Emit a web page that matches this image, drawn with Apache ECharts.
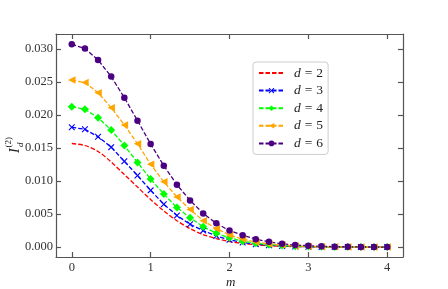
<!DOCTYPE html>
<html>
<head>
<meta charset="utf-8">
<script src="https://cdn.jsdelivr.net/npm/echarts@6/dist/echarts.min.js"></script>
<style>html,body{margin:0;padding:0;background:#fff}#c{width:448px;height:289px}</style>
</head>
<body>
<div id="c"></div>
<script>
// m grid (step 1/6)
const m = [0, 0.1667, 0.3333, 0.5, 0.6667, 0.8333, 1, 1.1667, 1.3333, 1.5, 1.6667, 1.8333, 2,
  2.1667, 2.3333, 2.5, 2.6667, 2.8333, 3, 3.1667, 3.3333, 3.5, 3.6667, 3.8333, 4];
const d2 = [0.0157, 0.0154, 0.0145, 0.0129, 0.0110, 0.0091, 0.0072, 0.0055, 0.0040, 0.0028, 0.0019, 0.0013, 0.00085,
  0.00055, 0.00035, 0.00022, 0.00013, 0.00008, 0.00005, 0.00003, 0.00002, 0.00001, 0.00001, 0, 0];
const d3 = [0.01816, 0.01785, 0.01673, 0.01515, 0.01300, 0.01085, 0.0086, 0.0065, 0.0048, 0.00346, 0.0025, 0.0017, 0.0011,
  0.0007, 0.00045, 0.00028, 0.00017, 0.0001, 0.00006, 0.00003, 0.00002, 0.00001, 0.00001, 0, 0];
const d4 = [0.02129, 0.02088, 0.01962, 0.01775, 0.0154, 0.01282, 0.01032, 0.00805, 0.006, 0.00445, 0.00308, 0.0021, 0.0014,
  0.0009, 0.0006, 0.00037, 0.00023, 0.00014, 0.00008, 0.00005, 0.00003, 0.00002, 0.00001, 0.00001, 0];
const d5 = [0.02533, 0.02493, 0.02341, 0.02113, 0.01851, 0.01568, 0.01254, 0.00991, 0.0076, 0.0057, 0.004, 0.0028, 0.00185,
  0.0012, 0.00078, 0.00048, 0.0003, 0.00018, 0.00011, 0.00006, 0.00004, 0.00002, 0.00001, 0.00001, 0];
const d6 = [0.03075, 0.03009, 0.02837, 0.02584, 0.02265, 0.01917, 0.01563, 0.01234, 0.00945, 0.00708, 0.00511, 0.0036, 0.0025,
  0.0018, 0.0012, 0.0008, 0.0005, 0.0003, 0.0002, 0.00012, 0.00007, 0.00004, 0.00002, 0.00001, 0.00001];
const xTicks = [0, 1, 2, 3, 4];
const yTicks = [0, 0.005, 0.01, 0.015, 0.02, 0.025, 0.03];
const dValues = ['2', '3', '4', '5', '6'];
const names = dValues.map(v => 'd = ' + v);

const FONT = '"Liberation Serif", "DejaVu Serif", serif';
const axisColor = '#555';
const pairs = v => m.map((x, i) => [x, v[i]]);
const crossPath = 'path://M0,1.2L1.2,0L5,3.8L8.8,0L10,1.2L6.2,5L10,8.8L8.8,10L5,6.2L1.2,10L0,8.8L3.8,5Z';

function mk(name, data, color, symbol, size, rot, smooth) {
  return {
    name, type: 'line', data: pairs(data), smooth: smooth || false,
    symbol: symbol, symbolSize: size, symbolRotate: rot || 0, showSymbol: symbol !== 'none',
    lineStyle: { color, width: 1.3, type: [4.5, 2] },
    itemStyle: { color },
    emphasis: { disabled: true }, animation: false
  };
}

const axisLineStyle = { color: axisColor, width: 1.2 };
const chart = echarts.init(document.getElementById('c'), null, { renderer: 'canvas' });
chart.setOption({
  animation: false,
  grid: { left: 56, right: 45, top: 34, bottom: 32 },
  xAxis: [
    { type: 'value', min: -0.2, max: 4.2, position: 'bottom',
      axisLine: { show: true, onZero: false, lineStyle: axisLineStyle },
      axisTick: { show: true, inside: true, length: 5, customValues: xTicks, lineStyle: axisLineStyle },
      axisLabel: { customValues: xTicks, margin: 4, color: '#333', fontFamily: FONT, fontSize: 12.5, formatter: v => String(v) },
      splitLine: { show: false } },
    { type: 'value', min: -0.2, max: 4.2, position: 'top',
      axisLine: { show: true, onZero: false, lineStyle: axisLineStyle },
      axisTick: { show: true, inside: true, length: 5, customValues: xTicks, lineStyle: axisLineStyle },
      axisLabel: { show: false }, splitLine: { show: false } }
  ],
  yAxis: [
    { type: 'value', min: -0.0015, max: 0.0323, position: 'left',
      axisLine: { show: true, onZero: false, lineStyle: axisLineStyle },
      axisTick: { show: true, inside: true, length: 5, customValues: yTicks, lineStyle: axisLineStyle },
      axisLabel: { customValues: yTicks, margin: 3, color: '#333', fontFamily: FONT, fontSize: 12.5, formatter: v => v.toFixed(3) },
      splitLine: { show: false } },
    { type: 'value', min: -0.0015, max: 0.0323, position: 'right',
      axisLine: { show: true, onZero: false, lineStyle: axisLineStyle },
      axisTick: { show: true, inside: true, length: 5, customValues: yTicks, lineStyle: axisLineStyle },
      axisLabel: { show: false }, splitLine: { show: false } }
  ],
  legend: {
    orient: 'vertical', left: 253, top: 62,
    padding: [4, 5, 4, 5], itemWidth: 25, itemHeight: 7, itemGap: 3.6,
    backgroundColor: 'rgba(255,255,255,0.8)', borderColor: '#ccc', borderWidth: 1, borderRadius: 3,
    data: names.map((n, i) => i === 0 ? { name: n, itemStyle: { opacity: 0 } } : { name: n }),
    formatter: n => '{i|d}{e|=}{t|' + n.slice(-1) + '}',
    textStyle: { color: '#222', fontFamily: FONT, fontSize: 13, lineHeight: 14,
      rich: {
        i: { fontStyle: 'italic', fontFamily: FONT, fontSize: 13.5, color: '#222', padding: [0, 0, 0, 5] },
        e: { fontFamily: FONT, fontSize: 13.5, color: '#222', padding: [0, 4, 0, 4] },
        t: { fontFamily: FONT, fontSize: 13.5, color: '#222' } } },
    selectedMode: false
  },
  graphic: [
    { type: 'text', left: 226, top: 276, style: { text: 'm', font: 'italic 13px ' + FONT, fill: '#222' } },
    { type: 'group', x: 21, y: 153, rotation: Math.PI / 2, children: [
      { type: 'text', x: 0, y: -13, style: { text: 'I', font: 'italic 14px ' + FONT, fill: '#222' } },
      { type: 'text', x: 6, y: -5, style: { text: 'd', font: 'italic 9px ' + FONT, fill: '#222' } },
      { type: 'text', x: 5.5, y: -17, style: { text: '(2)', font: '9px ' + FONT, fill: '#222' } }
    ] }
  ],
  series: [
    mk(names[0], d2, '#ff0000', 'none', 0, 0, 0.3),
    mk(names[1], d3, '#0000ff', crossPath, 6.5),
    mk(names[2], d4, '#00ff00', 'diamond', 8),
    mk(names[3], d5, '#ffa500', 'triangle', 7.5, 90),
    mk(names[4], d6, '#4b0082', 'circle', 6.5)
  ]
});
</script>
</body>
</html>
